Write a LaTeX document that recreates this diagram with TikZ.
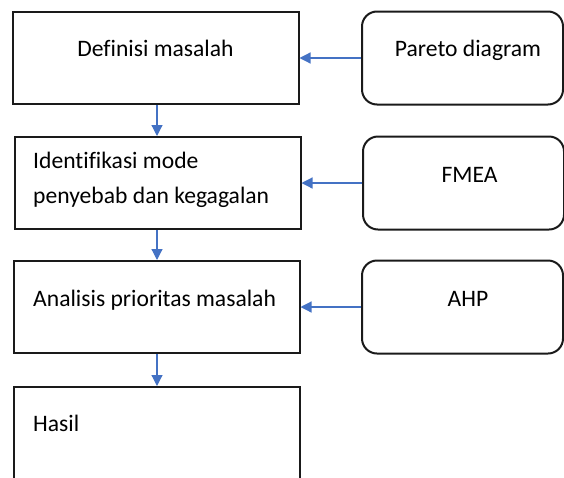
\documentclass[tikz,border=0pt]{standalone}
\usepackage{fontspec}
\setmainfont{Carlito}[Ligatures=NoCommon]
\usepackage{tikz}
\usetikzlibrary{arrows.meta,positioning,calc}
\definecolor{flowblue}{HTML}{4472C4}
\definecolor{boxline}{HTML}{1A1A1A}

\begin{document}
\begin{tikzpicture}[x=1pt, y=1pt, >={Triangle[length=11pt,width=11pt]},
 flow/.style={->, draw=flowblue, fill=flowblue, line width=1.2pt},
 stepbox/.style={draw=boxline, line width=2pt, minimum width=286pt, minimum height=92pt, inner sep=0pt},
 toolbox/.style={draw=boxline, line width=2pt, rounded corners=15pt, minimum width=201pt, minimum height=93pt, inner sep=0pt},
 boxtext/.style={inner sep=0pt, font=\fontsize{23.6}{35}\selectfont}]
 \clip (0,0) rectangle (564,-477);
 \node[stepbox] (def) at (155.5, -58) {};
\node[stepbox] (iden) at (157.5, -183) {};
\node[stepbox] (anal) at (156.5, -307) {};
\node[stepbox, minimum height=100pt] (hasil) at (156.5, -437) {};
\node[toolbox] (pareto) at (462.5, -58) {};
\node[toolbox] (fmea) at (463.5, -183) {};
\node[toolbox] (ahp) at (462.5, -307) {};
\node[boxtext, anchor=base] (def_t) at (155.5, -56.5) {Definisi masalah};
\node[boxtext, anchor=base west] (iden_t) at (33, -168) {\begin{tabular}[t]{@{}l@{}} Identifikasi mode \\ penyebab dan kegagalan \end{tabular}};
\node[boxtext, anchor=base west] (anal_t) at (33, -306.5) {Analisis prioritas masalah};
\node[boxtext, anchor=base west] (hasil_t) at (33, -431.5) {Hasil};
\node[boxtext, anchor=base] (pareto_t) at (468, -56.5) {Pareto diagram};
\node[boxtext, anchor=base] (fmea_t) at (469.5, -182) {FMEA};
\node[boxtext, anchor=base] (ahp_t) at (468, -306.5) {AHP};
% \path (def) edge (pareto);
\path (pareto.west) edge[flow] (def.east);
\path (fmea.west) edge[flow] (iden.east);
\path (ahp.west) edge[flow] (anal.east);
\path (def.south -| 157,0) edge[flow] (iden.north -| 157,0);
\path (iden.south -| 157,0) edge[flow] (anal.north -| 157,0);
\path (anal.south -| 157,0) edge[flow] (hasil.north -| 157,0);
\end{tikzpicture}
\end{document}
